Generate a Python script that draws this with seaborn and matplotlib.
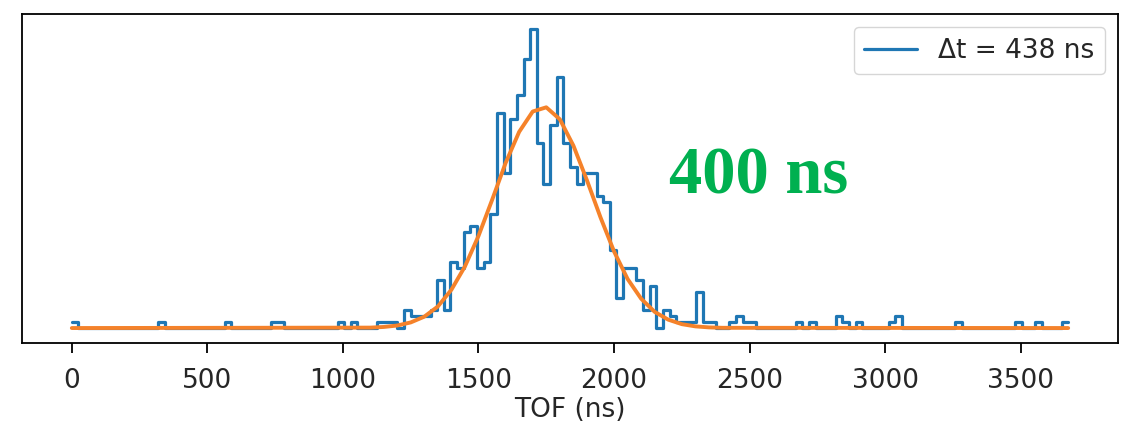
import numpy as np
import pandas as pd
import matplotlib
matplotlib.use("Agg")
import matplotlib.pyplot as plt
import seaborn as sns

# ---- data ----
bin_width = 24.5  # ns
counts = [
    1, 0, 0, 0, 0, 0, 0, 0, 0, 0,
    0, 0, 0, 1, 0, 0, 0, 0, 0, 0,
    0, 0, 0, 1, 0, 0, 0, 0, 0, 0,
    1, 1, 0, 0, 0, 0, 0, 0, 0, 0,
    1, 0, 1, 0, 0, 0, 1, 1, 1, 0,
    3, 2, 2, 2, 3, 8, 3, 11, 10, 16,
    17, 10, 11, 19, 36, 26, 35, 39, 45, 50,
    31, 24, 34, 42, 31, 27, 24, 26, 26, 22,
    21, 13, 5, 10, 10, 8, 3, 7, 0, 3,
    2, 1, 1, 1, 6, 1, 1, 0, 0, 1,
    2, 1, 1, 0, 0, 0, 0, 0, 0, 1,
    0, 1, 0, 0, 0, 2, 1, 0, 1, 0,
    0, 0, 0, 1, 2, 0, 0, 0, 0, 0,
    0, 0, 0, 1, 0, 0, 0, 0, 0, 0,
    0, 0, 1, 0, 0, 1, 0, 0, 0, 1,
]
fit_x = [0, 1100, 1150, 1200, 1250, 1300, 1350, 1400, 1450, 1500, 1550, 1600,
         1650, 1700, 1750, 1800, 1850, 1900, 1950, 2000, 2050, 2100, 2150,
         2200, 2250, 2300, 2350, 2400, 3675]
fit_y = [0.0, 0.07, 0.18, 0.42, 0.94, 1.9, 3.6, 6.4, 10.3, 15.4, 21.4, 27.6,
         32.8, 36.2, 36.9, 34.9, 30.5, 24.7, 18.5, 12.8, 8.2, 4.9, 2.7,
         1.4, 0.65, 0.28, 0.11, 0.04, 0.0]
legend_label = "\u0394t = 438 ns"
annotation = "400 ns"
x_ticks = [0, 500, 1000, 1500, 2000, 2500, 3000, 3500]
x_label = "TOF (ns)"

# step outline built from bin edges
edges = np.arange(len(counts) + 1) * bin_width
step_x = list(edges[:-1]) + [edges[-1]]
step_y = list(counts) + [counts[-1]]

sns.set_style("ticks")
plt.rcParams["font.family"] = ["DejaVu Sans"]

FS = 19

fig = plt.figure(figsize=(11.32, 4.29), dpi=100)
ax = fig.add_axes([22 / 1132, 1 - 343 / 429, 1096 / 1132, 329 / 429])

sns.lineplot(x=step_x, y=step_y, drawstyle="steps-post", color="#1f77b4",
             lw=2.3, label=legend_label, ax=ax)
sns.lineplot(x=fit_x, y=fit_y, color="#f5822a", lw=2.8, ax=ax)

ax.set_yticks([])
ax.set_xticks(x_ticks)
ax.set_xlabel(x_label, fontsize=FS, labelpad=2)
ax.tick_params(axis="x", labelsize=FS, length=7, width=1.3, pad=11,
               color="black")
for s in ax.spines.values():
    s.set_color("black")
    s.set_linewidth(1.3)

ax.legend(loc="upper right", fontsize=FS, handlelength=2.0)

ax.text(0.59, 0.455, annotation, transform=ax.transAxes, fontsize=48,
        fontweight="bold", color="#00B050", family="Liberation Serif")

fig.savefig("out.png", dpi=100)
